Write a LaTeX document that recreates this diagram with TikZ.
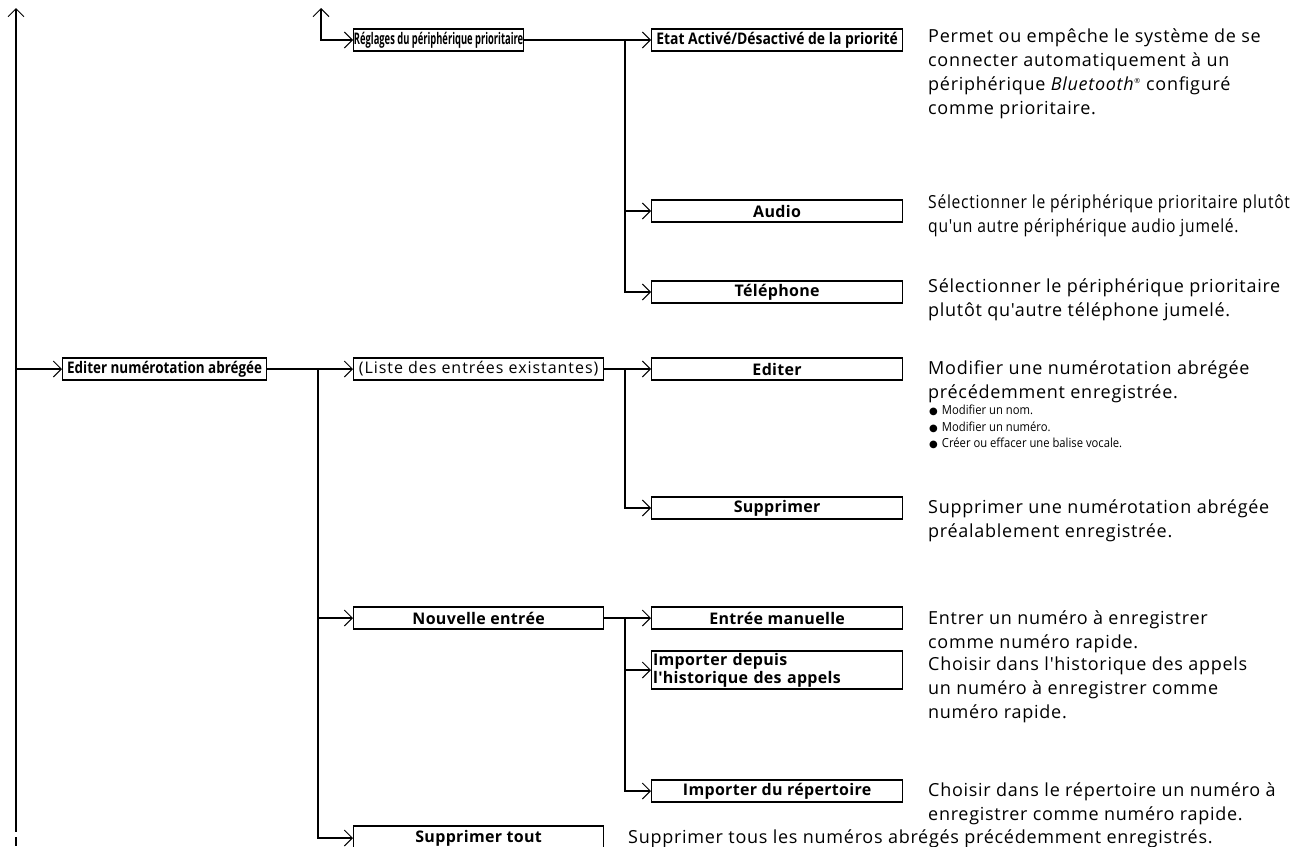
\documentclass[tikz,border=0pt]{standalone}
\usepackage{graphicx}
\usepackage{fontspec}
\setmainfont{Open Sans}
\newfontfamily\descfont[LetterSpace=4]{Open Sans}
\newfontfamily\descnarrow[FakeStretch=0.87,LetterSpace=4]{Open Sans}
\newfontfamily\bulfont[FakeStretch=0.9]{Open Sans}
\newfontfamily\lblfont[LetterSpace=2]{Open Sans}
\newfontfamily\lblplain{Open Sans}
\newfontfamily\lblednum[FakeStretch=0.84]{Open Sans}
\newfontfamily\lbletat[FakeStretch=0.87]{Open Sans}
\newfontfamily\lblliste[LetterSpace=6]{Open Sans}
\newfontfamily\dotfont{DejaVu Sans}
\usetikzlibrary{arrows.meta}
\begin{document}
\begin{tikzpicture}[x=1pt,y=-1pt,
  box/.style={draw, line width=1.2pt, minimum height=22pt, inner sep=0pt, anchor=west,
    font=\lblfont\fontsize{16}{18}\selectfont\bfseries},
  barb/.tip={Straight Barb[length=8pt,width=16pt,line width=1pt]},
  conn/.style={line width=1.8pt, -barb},
  trunk/.style={line width=1.8pt},
  desc/.style={anchor=north west, inner sep=0pt, align=left,
    font=\descfont\fontsize{18}{24}\selectfont},
  bul/.style={anchor=north west, inner sep=0pt, align=left,
    font=\bulfont\fontsize{12.5}{16.5}\selectfont},
]
\useasboundingbox (0,0) rectangle (1292,846);
\newcommand\bdot{{\dotfont\fontsize{10}{10}\selectfont ●}\hspace{4pt}}

% boxes
\node[box, minimum width=170pt, font=\lblplain\fontsize{16}{18}\selectfont\bfseries] (reg) at (353,40) {\scalebox{0.585}[1]{Réglages du périphérique prioritaire}};
\node[box, minimum width=251pt, font=\lbletat\fontsize{16}{18}\selectfont\bfseries] (etat) at (651,40) {Etat Activé/Désactivé de la priorité};
\node[box, minimum width=251pt] (audio) at (651,211) {Audio};
\node[box, minimum width=251pt] (tel) at (651,292) {Téléphone};
\node[box, minimum width=204pt, font=\lblednum\fontsize{16}{18}\selectfont\bfseries] (ednum) at (62,369) {Editer numérotation abrégée};
\node[box, minimum width=250pt, font=\lblliste\fontsize{16}{18}\selectfont] (liste) at (353,369) {(Liste des entrées existantes)};
\node[box, minimum width=251pt] (edit) at (651,369) {Editer};
\node[box, minimum width=251pt] (supp) at (651,508) {Supprimer};
\node[box, minimum width=250pt] (nouv) at (353,618) {Nouvelle entrée};
\node[box, minimum width=251pt] (entree) at (651,618) {Entrée manuelle};
\node[box, text width=248pt, minimum height=38pt, inner xsep=1.5pt, align=left] (imphist) at (651,670) {Importer depuis\\l'historique des appels};
\node[box, minimum width=251pt] (imprep) at (651,791) {Importer du répertoire};
\node[box, minimum width=250pt, minimum height=24pt] (suptout) at (353,838) {Supprimer tout};

% free ends
\coordinate (ltop) at (16,8);
\coordinate (lbot) at (16,832);
\coordinate (lgap) at (16,837);
\coordinate (lend) at (16,846);
\coordinate (rtop) at (321,8);
\coordinate (j1) at (625,40);
\coordinate (j2) at (318,369);
\coordinate (j3) at (625,369);
\coordinate (j4) at (625,618);

% connectors
\draw[trunk, barb-] (ltop) -- (lbot);
\draw[trunk] (lgap) -- (lend);
\draw[conn] (ednum.west -| ltop) -- (ednum.west);
\draw[trunk, barb-barb] (rtop) |- (reg.west);

\draw[conn] (reg.east) -- (etat.west);
\draw[conn] (j1) |- (tel.west);
\draw[conn] (j1 |- audio.west) -- (audio.west);

\draw[conn] (ednum.east) -- (liste.west);
\draw[conn] (j2) |- (suptout.west);
\draw[conn] (j2 |- nouv.west) -- (nouv.west);

\draw[conn] (liste.east) -- (edit.west);
\draw[conn] (j3) |- (supp.west);

\draw[conn] (nouv.east) -- (entree.west);
\draw[conn] (j4) |- (imprep.west);
\draw[conn] (j4 |- imphist.west) -- (imphist.west);

% descriptions
\node[desc] (d1) at (928,25) {\strut Permet ou empêche le système de se\\connecter automatiquement à un\\périphérique \textit{Bluetooth}\textsuperscript{\scriptsize ®} configuré\\comme prioritaire.};
\node[desc, font=\descnarrow\fontsize{18}{24}\selectfont] (d2) at (928,191) {\strut Sélectionner le périphérique prioritaire plutôt\\qu'un autre périphérique audio jumelé.};
\node[desc] (d3) at (928,275) {\strut Sélectionner le périphérique prioritaire\\plutôt qu'autre téléphone jumelé.};
\node[desc] (d4) at (928,357) {\strut Modifier une numérotation abrégée\\précédemment enregistrée.};
\node[bul] (d4b) at (929,403) {\strut\bdot Modifier un nom.\\\bdot Modifier un numéro.\\\bdot Créer ou effacer une balise vocale.};
\node[desc] (d5) at (928,496) {\strut Supprimer une numérotation abrégée\\préalablement enregistrée.};
\node[desc] (d6) at (928,607) {\strut Entrer un numéro à enregistrer\\comme numéro rapide.};
\node[desc] (d7) at (928,653) {\strut Choisir dans l'historique des appels\\un numéro à enregistrer comme\\numéro rapide.};
\node[desc] (d8) at (928,779) {\strut Choisir dans le répertoire un numéro à\\enregistrer comme numéro rapide.};
\node[desc] (d9) at (628,826) {\strut Supprimer tous les numéros abrégés précédemment enregistrés.};
\end{tikzpicture}
\end{document}
